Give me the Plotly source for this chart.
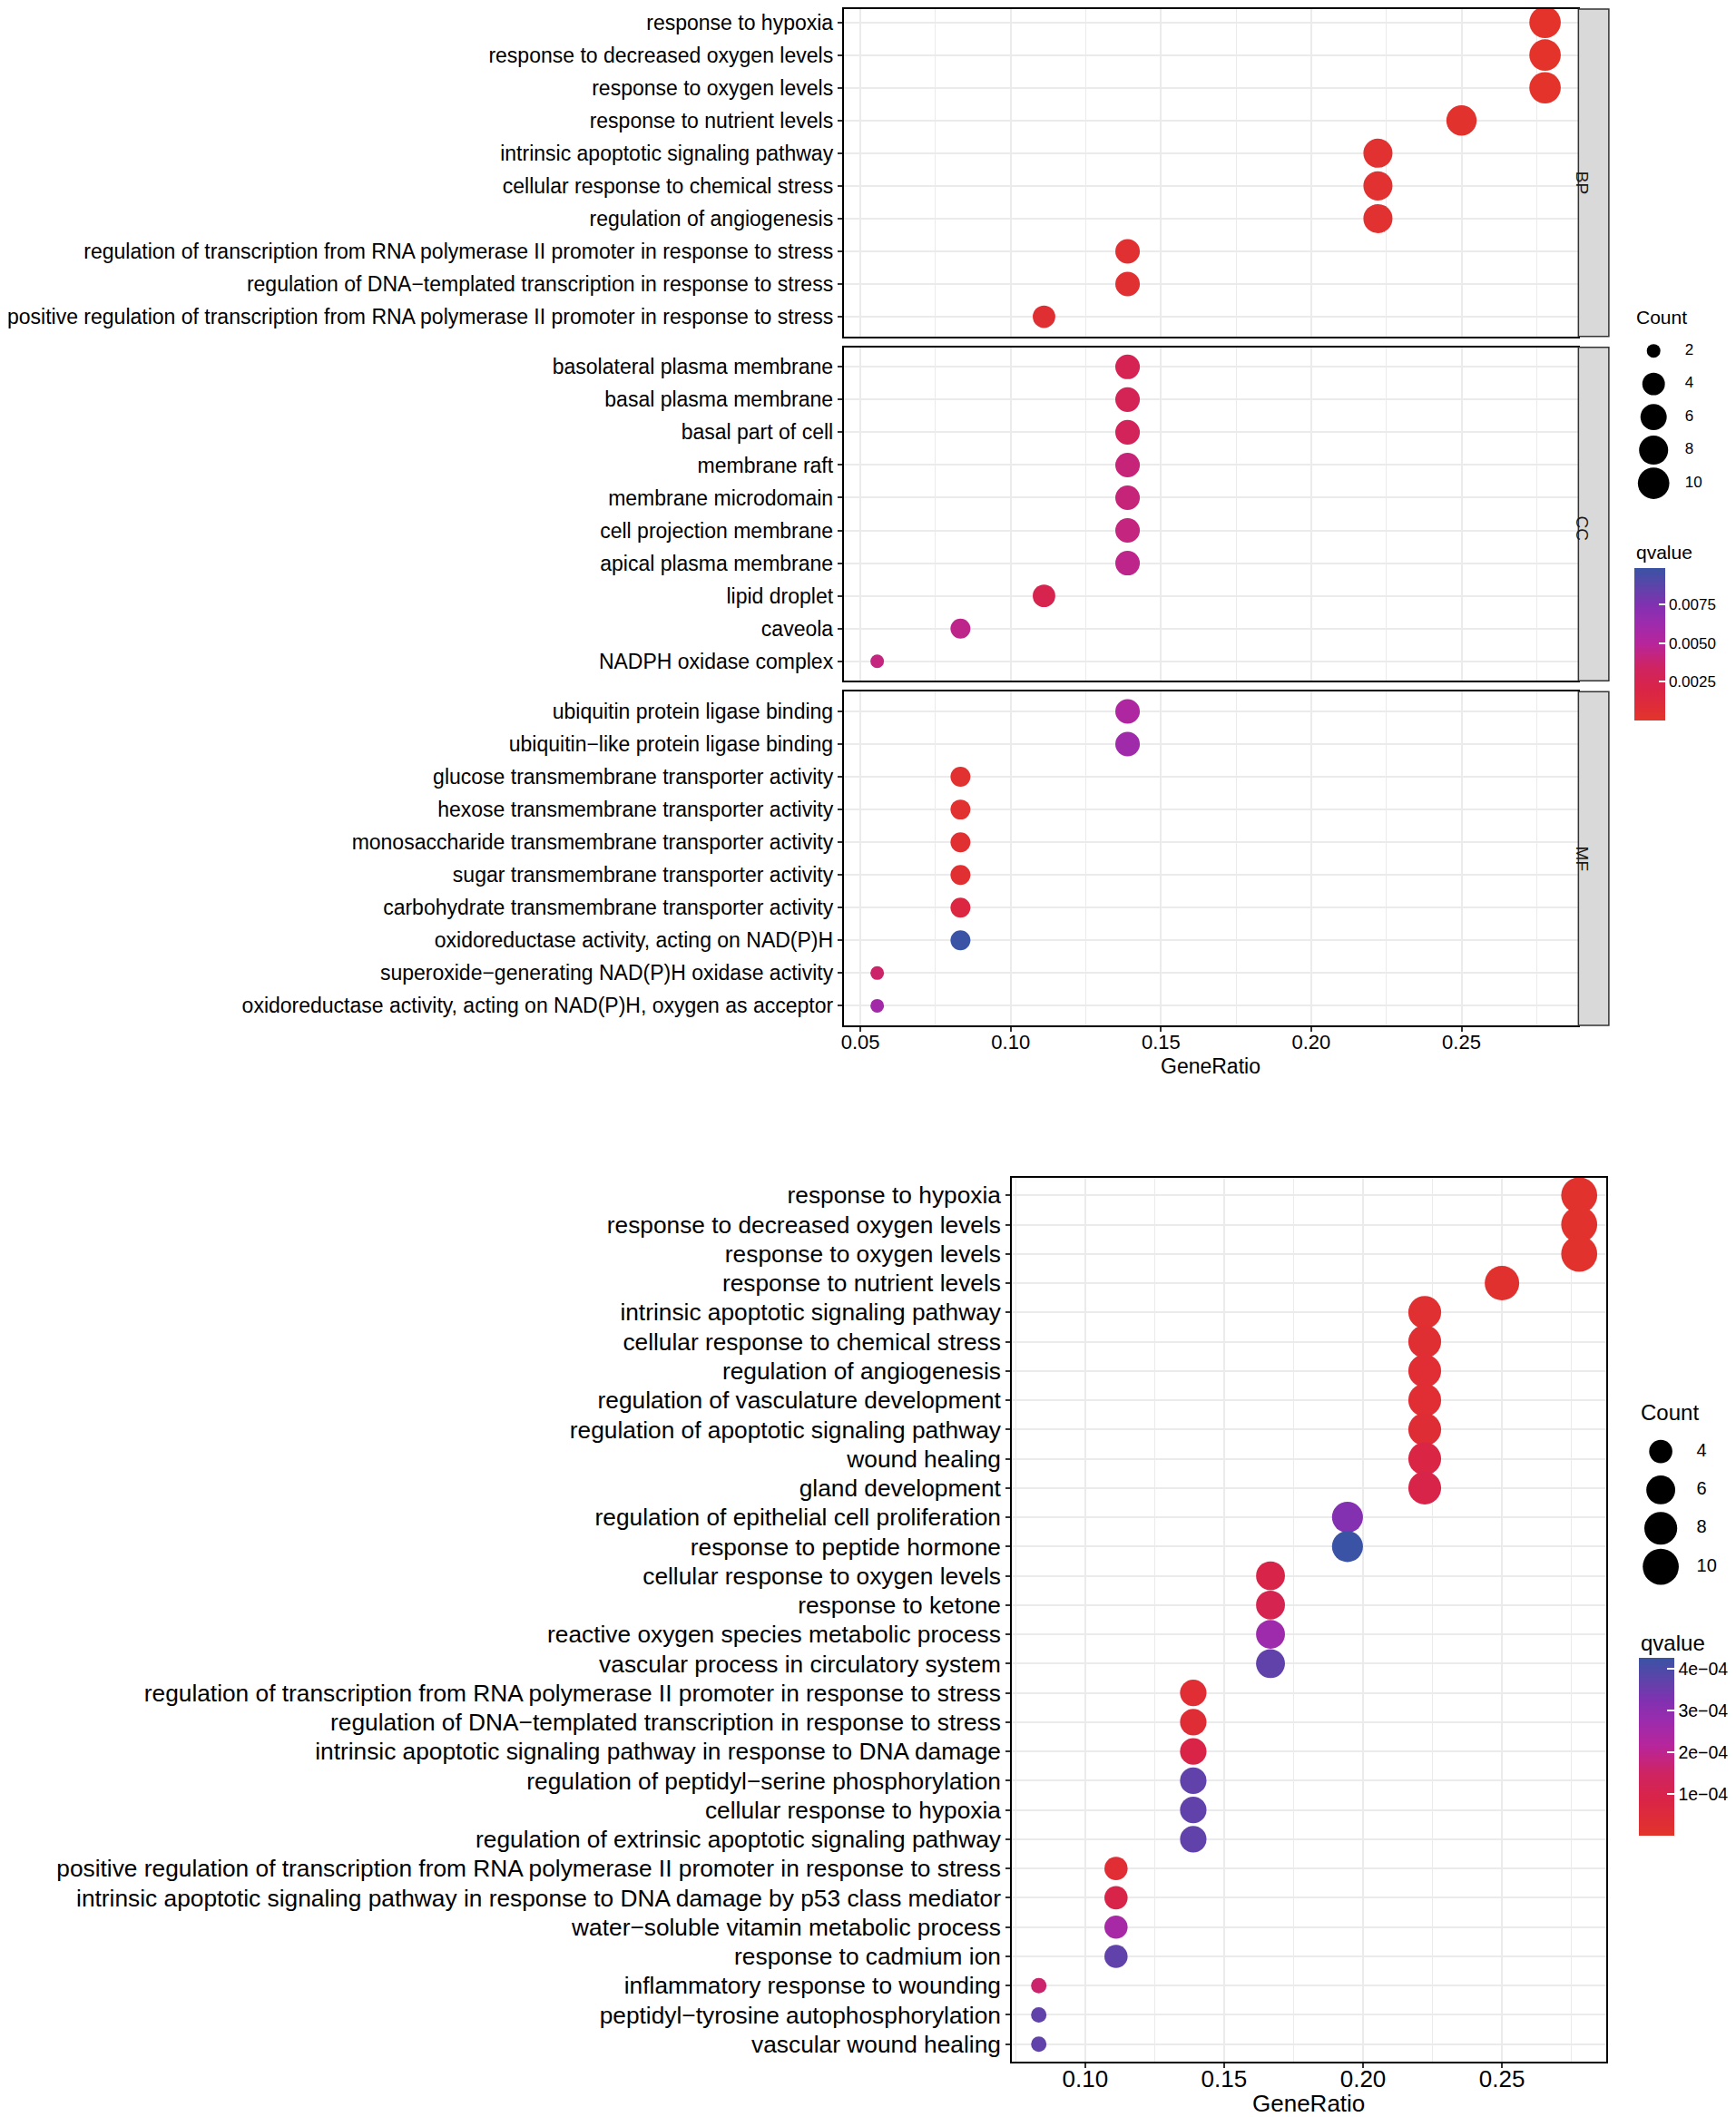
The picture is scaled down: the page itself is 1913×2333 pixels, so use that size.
import plotly.graph_objects as go

# page geometry: the browser adds an 8px body margin, so the figure is shifted to compensate
PAGE_W, PAGE_H = 1913, 2333
OFF = 8
W, H = PAGE_W - OFF, PAGE_H - OFF
def px(x): return (x - OFF) / W
def py(y): return 1 - (y - OFF) / H

FONT = "Liberation Sans, Arial, Helvetica, sans-serif"

# ---------------- Top chart data (faceted) ----------------
bp_terms = ["response to hypoxia", "response to decreased oxygen levels", "response to oxygen levels",
            "response to nutrient levels", "intrinsic apoptotic signaling pathway",
            "cellular response to chemical stress", "regulation of angiogenesis",
            "regulation of transcription from RNA polymerase II promoter in response to stress",
            "regulation of DNA\u2212templated transcription in response to stress",
            "positive regulation of transcription from RNA polymerase II promoter in response to stress"]
bp_ratio = [0.2778, 0.2778, 0.2778, 0.25, 0.2222, 0.2222, 0.2222, 0.1389, 0.1389, 0.1111]
bp_count = [10, 10, 10, 9, 8, 8, 8, 5, 5, 4]
bp_q = [0.0001, 0.0001, 0.0001, 0.0002, 0.0004, 0.0004, 0.0004, 0.0005, 0.0005, 0.0006]

cc_terms = ["basolateral plasma membrane", "basal plasma membrane", "basal part of cell", "membrane raft",
            "membrane microdomain", "cell projection membrane", "apical plasma membrane", "lipid droplet",
            "caveola", "NADPH oxidase complex"]
cc_ratio = [0.1389, 0.1389, 0.1389, 0.1389, 0.1389, 0.1389, 0.1389, 0.1111, 0.0833, 0.0556]
cc_count = [5, 5, 5, 5, 5, 5, 5, 4, 3, 2]
cc_q = [0.0026, 0.0028, 0.0030, 0.0040, 0.0040, 0.0042, 0.0045, 0.0024, 0.0045, 0.0042]

mf_terms = ["ubiquitin protein ligase binding", "ubiquitin\u2212like protein ligase binding",
            "glucose transmembrane transporter activity", "hexose transmembrane transporter activity",
            "monosaccharide transmembrane transporter activity", "sugar transmembrane transporter activity",
            "carbohydrate transmembrane transporter activity", "oxidoreductase activity, acting on NAD(P)H",
            "superoxide\u2212generating NAD(P)H oxidase activity",
            "oxidoreductase activity, acting on NAD(P)H, oxygen as acceptor"]
mf_ratio = [0.1389, 0.1389, 0.0833, 0.0833, 0.0833, 0.0833, 0.0833, 0.0833, 0.0556, 0.0556]
mf_count = [5, 5, 3, 3, 3, 3, 3, 3, 2, 2]
mf_q = [0.0054, 0.0061, 0.0004, 0.0004, 0.0005, 0.0005, 0.0016, 0.0098, 0.0036, 0.0060]

facet_labels = ["BP", "CC", "MF"]
top_x_ticks = [0.05, 0.10, 0.15, 0.20, 0.25]
top_legend_counts = [2, 4, 6, 8, 10]
top_q_ticks = [0.0025, 0.0050, 0.0075]
top_q_ticktext = ["0.0025", "0.0050", "0.0075"]

# ---------------- Bottom chart data ----------------
b_terms = ["response to hypoxia", "response to decreased oxygen levels", "response to oxygen levels",
           "response to nutrient levels", "intrinsic apoptotic signaling pathway",
           "cellular response to chemical stress", "regulation of angiogenesis",
           "regulation of vasculature development", "regulation of apoptotic signaling pathway",
           "wound healing", "gland development", "regulation of epithelial cell proliferation",
           "response to peptide hormone", "cellular response to oxygen levels", "response to ketone",
           "reactive oxygen species metabolic process", "vascular process in circulatory system",
           "regulation of transcription from RNA polymerase II promoter in response to stress",
           "regulation of DNA\u2212templated transcription in response to stress",
           "intrinsic apoptotic signaling pathway in response to DNA damage",
           "regulation of peptidyl\u2212serine phosphorylation", "cellular response to hypoxia",
           "regulation of extrinsic apoptotic signaling pathway",
           "positive regulation of transcription from RNA polymerase II promoter in response to stress",
           "intrinsic apoptotic signaling pathway in response to DNA damage by p53 class mediator",
           "water\u2212soluble vitamin metabolic process", "response to cadmium ion",
           "inflammatory response to wounding", "peptidyl\u2212tyrosine autophosphorylation",
           "vascular wound healing"]
b_ratio = [0.2778, 0.2778, 0.2778, 0.25, 0.2222, 0.2222, 0.2222, 0.2222, 0.2222, 0.2222, 0.2222,
           0.1944, 0.1944, 0.1667, 0.1667, 0.1667, 0.1667, 0.1389, 0.1389, 0.1389, 0.1389, 0.1389,
           0.1389, 0.1111, 0.1111, 0.1111, 0.1111, 0.0833, 0.0833, 0.0833]
b_count = [10, 10, 10, 9, 8, 8, 8, 8, 8, 8, 8, 7, 7, 6, 6, 6, 6, 5, 5, 5, 5, 5, 5, 4, 4, 4, 4, 3, 3, 3]
b_q = [1.0e-5, 1.0e-5, 1.0e-5, 1.5e-5, 2.0e-5, 2.5e-5, 3.0e-5, 3.0e-5, 3.5e-5, 8.0e-5, 9.0e-5,
       3.2e-4, 4.26e-4, 9.0e-5, 1.1e-4, 2.7e-4, 3.7e-4, 3.0e-5, 3.5e-5, 8.5e-5, 3.7e-4, 3.7e-4,
       3.7e-4, 3.0e-5, 9.0e-5, 2.5e-4, 3.7e-4, 1.6e-4, 3.7e-4, 3.7e-4]
bot_x_ticks = [0.10, 0.15, 0.20, 0.25]
bot_legend_counts = [4, 6, 8, 10]
bot_q_ticks = [1e-4, 2e-4, 3e-4, 4e-4]
bot_q_ticktext = ["1e\u221204", "2e\u221204", "3e\u221204", "4e\u221204"]

# ---------------- styles ----------------
colorscale = [[0.0, "#E3342A"], [0.2, "#DA2447"], [0.35, "#CF2462"], [0.5, "#B8259A"],
              [0.65, "#9A2CAE"], [0.75, "#8330B1"], [0.85, "#6540AB"], [1.0, "#3A53A4"]]
GRID = "#EBEBEB"

def sizes(counts, lo, hi, dmin, dmax):
    return [dmin + (dmax - dmin) * ((c - lo) / (hi - lo)) ** 0.5 for c in counts]

fig = go.Figure()

top_panels = [(bp_terms, bp_ratio, bp_count, bp_q, 1, 369),
              (cc_terms, cc_ratio, cc_count, cc_q, 381, 749),
              (mf_terms, mf_ratio, mf_count, mf_q, 761, 1129)]
TOP_X0, TOP_X1 = 920, 1741
top_range = [0.0444, 0.2889]

for i, (terms, ratio, count, q, y0, y1) in enumerate(top_panels):
    sfx = "" if i == 0 else str(i + 1)
    n = len(terms)
    unit = (y1 - y0) / (n + 0.2)
    y0e = max(y0, OFF)
    r_top = -0.6 + (y0e - y0) / unit
    fig.add_trace(go.Scatter(
        x=ratio, y=terms, mode="markers", xaxis="x" + sfx, yaxis="y" + sfx,
        marker=dict(size=sizes(count, 2, 10, 15, 34.7), color=q, coloraxis="coloraxis",
                    line=dict(width=0), opacity=1),
        showlegend=False, hoverinfo="x+y"))
    last = (i == 2)
    fig.layout["xaxis" + sfx] = dict(
        domain=[px(TOP_X0), px(TOP_X1)], range=top_range, anchor="y" + sfx,
        tickvals=top_x_ticks, ticktext=[f"{v:.2f}" for v in top_x_ticks],
        showticklabels=last, ticks="outside" if last else "", ticklen=5, tickwidth=1.5,
        tickcolor="#333333", tickfont=dict(size=22, color="black", family=FONT),
        ticklabelstandoff=-7,
        showgrid=True, gridcolor=GRID, gridwidth=1.6,
        minor=dict(tickvals=[0.075, 0.125, 0.175, 0.225, 0.275], showgrid=True,
                   gridcolor=GRID, gridwidth=0.9),
        showline=True, mirror=True, linecolor="black", linewidth=1.6, zeroline=False)
    fig.layout["yaxis" + sfx] = dict(
        domain=[py(y1), py(y0e)], anchor="x" + sfx, type="category",
        categoryorder="array", categoryarray=terms, range=[n - 0.4, r_top],
        ticks="outside", ticklen=5, tickwidth=1.5, tickcolor="#333333",
        tickfont=dict(size=23, color="black", family=FONT),
        showgrid=True, gridcolor=GRID, gridwidth=1.6,
        showline=True, mirror=True, linecolor="black", linewidth=1.6, zeroline=False)
    # strip
    fig.add_shape(type="rect", xref="paper", yref="paper", x0=px(1741), x1=px(1775),
                  y0=py(y1), y1=py(y0e), fillcolor="#D9D9D9",
                  line=dict(color="#333333", width=1.5), layer="above")
    fig.add_annotation(x=px(1758), y=py((y0 + y1) / 2), xref="paper", yref="paper",
                       text=facet_labels[i], textangle=90, showarrow=False,
                       font=dict(size=19, color="#1A1A1A", family=FONT))

# bottom chart
B_X0, B_X1, B_Y0, B_Y1 = 1108, 1772, 1297, 2272
fig.add_trace(go.Scatter(
    x=b_ratio, y=b_terms, mode="markers", xaxis="x4", yaxis="y4",
    marker=dict(size=sizes(b_count, 3, 10, 17, 39.7), color=b_q, coloraxis="coloraxis2",
                line=dict(width=0), opacity=1),
    showlegend=False, hoverinfo="x+y"))
fig.layout["xaxis4"] = dict(
    domain=[px(B_X0), px(B_X1)], range=[0.0736, 0.2875], anchor="y4",
    tickvals=bot_x_ticks, ticktext=[f"{v:.2f}" for v in bot_x_ticks],
    ticks="outside", ticklen=5, tickwidth=1.5, tickcolor="#333333",
    tickfont=dict(size=26, color="black", family=FONT), ticklabelstandoff=-10,
    showgrid=True, gridcolor=GRID, gridwidth=1.6,
    minor=dict(tickvals=[0.075, 0.125, 0.175, 0.225, 0.275], showgrid=True,
               gridcolor=GRID, gridwidth=0.9),
    showline=True, mirror=True, linecolor="black", linewidth=1.6, zeroline=False)
fig.layout["yaxis4"] = dict(
    domain=[py(B_Y1), py(B_Y0)], anchor="x4", type="category",
    categoryorder="array", categoryarray=b_terms, range=[len(b_terms) - 0.4, -0.6],
    ticks="outside", ticklen=5, tickwidth=1.5, tickcolor="#333333",
    tickfont=dict(size=26.3, color="black", family=FONT),
    showgrid=True, gridcolor=GRID, gridwidth=1.6,
    showline=True, mirror=True, linecolor="black", linewidth=1.6, zeroline=False)

# size legends (hidden axes)
hidden = dict(visible=False, showgrid=False, zeroline=False, fixedrange=True)
# top legend
fig.add_trace(go.Scatter(x=[0] * len(top_legend_counts), y=top_legend_counts, xaxis="x5", yaxis="y5",
                         mode="markers", marker=dict(size=sizes(top_legend_counts, 2, 10, 15, 34.7),
                                                     color="#000000", opacity=1, line=dict(width=0)),
                         showlegend=False, hoverinfo="skip"))
fig.add_trace(go.Scatter(x=[0.35] * len(top_legend_counts), y=top_legend_counts, xaxis="x5", yaxis="y5",
                         mode="text", text=[str(c) for c in top_legend_counts], textposition="middle right",
                         textfont=dict(size=17, color="black", family=FONT),
                         showlegend=False, hoverinfo="skip"))
fig.layout["xaxis5"] = dict(domain=[px(1800), px(1900)], range=[-0.25, 0.75], anchor="y5", **hidden)
fig.layout["yaxis5"] = dict(domain=[py(549.25), py(366.75)], range=[11, 1], anchor="x5", **hidden)

# bottom legend
fig.add_trace(go.Scatter(x=[0] * len(bot_legend_counts), y=bot_legend_counts, xaxis="x6", yaxis="y6",
                         mode="markers", marker=dict(size=sizes(bot_legend_counts, 3, 10, 17, 39.7),
                                                     color="#000000", opacity=1, line=dict(width=0)),
                         showlegend=False, hoverinfo="skip"))
fig.add_trace(go.Scatter(x=[0.4] * len(bot_legend_counts), y=bot_legend_counts, xaxis="x6", yaxis="y6",
                         mode="text", text=[str(c) for c in bot_legend_counts], textposition="middle right",
                         textfont=dict(size=20, color="black", family=FONT),
                         showlegend=False, hoverinfo="skip"))
fig.layout["xaxis6"] = dict(domain=[px(1808), px(1908)], range=[-0.25, 0.75], anchor="y6", **hidden)
fig.layout["yaxis6"] = dict(domain=[py(1747.2), py(1577.8)], range=[11, 3], anchor="x6", **hidden)

fig.update_layout(
    width=W, height=H, margin=dict(l=0, r=0, t=0, b=0),
    paper_bgcolor="white", plot_bgcolor="white",
    font=dict(family=FONT, color="black"),
    coloraxis=dict(colorscale=colorscale, cmin=0, cmax=0.0098,
                   colorbar=dict(x=px(1803), xanchor="left", y=py(793), yanchor="bottom",
                                 len=168, lenmode="pixels", thickness=34, thicknessmode="pixels",
                                 outlinewidth=0, xpad=0, ypad=0, ticks="inside", ticklen=7,
                                 tickcolor="white", tickwidth=1.5, tickvals=top_q_ticks,
                                 ticktext=top_q_ticktext,
                                 tickfont=dict(size=17, color="black", family=FONT))),
    coloraxis2=dict(colorscale=colorscale, cmin=0, cmax=4.26e-4,
                    colorbar=dict(x=px(1809), xanchor="left", y=py(2023), yanchor="bottom",
                                  len=196, lenmode="pixels", thickness=39, thicknessmode="pixels",
                                  outlinewidth=0, xpad=0, ypad=0, ticks="inside", ticklen=8,
                                  tickcolor="white", tickwidth=1.5, tickvals=bot_q_ticks,
                                  ticktext=bot_q_ticktext,
                                  tickfont=dict(size=19.5, color="black", family=FONT))),
)

annos = [
    dict(text="GeneRatio", x=px(1330), y=py(1174), size=23, xanchor="center"),
    dict(text="GeneRatio", x=px(1440), y=py(2318), size=26, xanchor="center"),
    dict(text="Count", x=px(1804), y=py(348), size=21, xanchor="left"),
    dict(text="qvalue", x=px(1803), y=py(607), size=21, xanchor="left"),
    dict(text="Count", x=px(1809), y=py(1556), size=24, xanchor="left"),
    dict(text="qvalue", x=px(1809), y=py(1810), size=24, xanchor="left"),
]
for a in annos:
    fig.add_annotation(x=a["x"], y=a["y"], xref="paper", yref="paper", text=a["text"],
                       showarrow=False, xanchor=a["xanchor"], yanchor="middle",
                       font=dict(size=a["size"], color="black", family=FONT))

fig.write_html("out.html")
